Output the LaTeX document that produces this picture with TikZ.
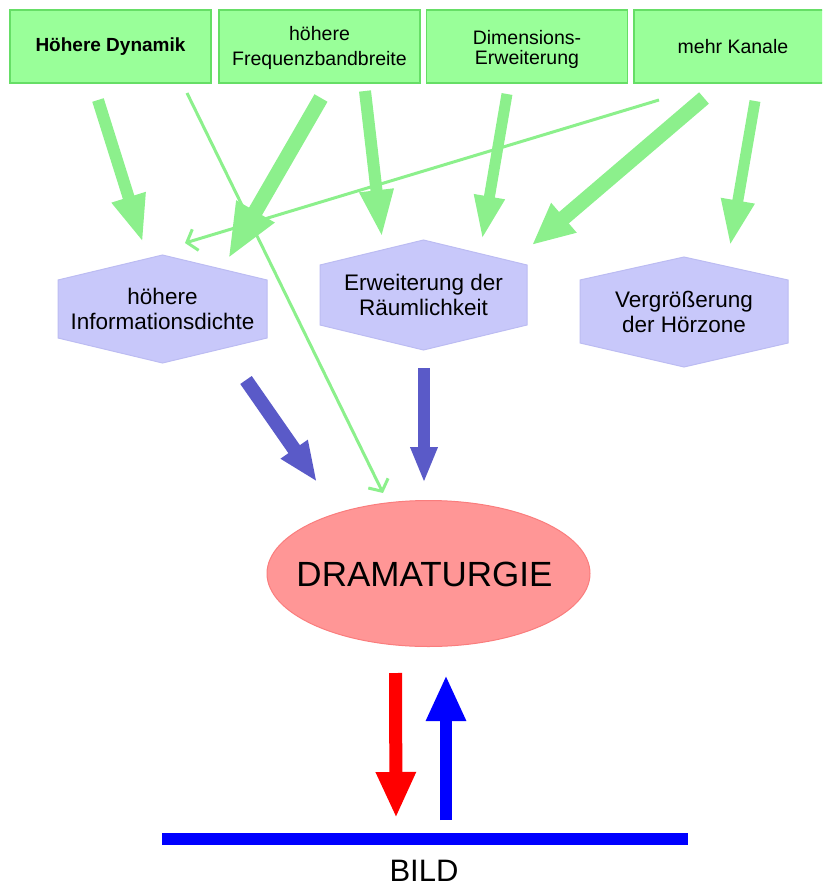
\documentclass[tikz,border=0pt]{standalone}
\usepackage{fontspec}
\setmainfont{Liberation Sans}
\usetikzlibrary{arrows.meta,calc,shapes.geometric}
\definecolor{boxfill}{RGB}{153,255,153}
\definecolor{boxline}{RGB}{102,222,102}
\definecolor{garrow}{RGB}{140,240,140}
\definecolor{hexfill}{RGB}{200,200,250}
\definecolor{hexline}{RGB}{188,188,242}
\definecolor{ellfill}{RGB}{255,150,150}
\definecolor{ellline}{RGB}{250,125,125}
\definecolor{slateb}{RGB}{90,90,200}
\begin{document}
\begin{tikzpicture}[x=1pt,y=-1pt,
  topbox/.style={draw=boxline, fill=boxfill, line width=1.5pt, minimum width=201pt,
    minimum height=73pt, inner sep=0pt, align=center},
  topfont/.style={font=\fontsize{19.5}{#1}\selectfont, align=center, inner sep=0pt},
  hextext/.style={font=\fontsize{22.5}{25}\selectfont, align=center, inner sep=0pt},
  hexshape/.style={fill=hexfill, draw=hexline, line width=1pt},
  garr/.style n args={3}{draw=garrow, line width=#1, -{Triangle[width=#2,length=#3]}},
  gthin/.style={draw=garrow, line width=3pt, -{Straight Barb[length=9pt,width=22pt]}},
  barr/.style n args={4}{draw=#1, line width=#2, -{Triangle[width=#3,length=#4]}}
]
\useasboundingbox (0,0) rectangle (822,888);
\clip (0,0) rectangle (822,888);

% top boxes
\node[topbox, font=\bfseries\fontsize{19}{23}\selectfont] (t1) at (110.5,46.5) {Höhere Dynamik};
\node[topbox] (t2) at (319.5,46.5) {};
\node[topfont=25] (t2t) at (319.5,48) {höhere\\Frequenzbandbreite};
\node[topbox] (t3) at (527,46.5) {};
\node[topfont=20] (t3t) at (527,49.5) {Dimensions-\\Erweiterung};
\node[topbox, font=\fontsize{19.5}{23}\selectfont, minimum width=198pt] (t4) at (733,46.5) {mehr Kanale};

% hexagon centres
\coordinate (c1) at (162.5,309);
\coordinate (c2) at (423.5,295);
\coordinate (c3) at (684,312);
\path[hexshape] ($(c1)+(-104.5,-29)$) -- ($(c1)+(0,-54)$) -- ($(c1)+(104.5,-29)$) -- ($(c1)+(104.5,29)$) -- ($(c1)+(0,54)$) -- ($(c1)+(-104.5,29)$) -- cycle;
\path[hexshape] ($(c2)+(-103.5,-30)$) -- ($(c2)+(0,-55)$) -- ($(c2)+(103.5,-30)$) -- ($(c2)+(103.5,30)$) -- ($(c2)+(0,55)$) -- ($(c2)+(-103.5,30)$) -- cycle;
\path[hexshape] ($(c3)+(-104,-32)$) -- ($(c3)+(0,-55)$) -- ($(c3)+(104,-32)$) -- ($(c3)+(104,31)$) -- ($(c3)+(0,55)$) -- ($(c3)+(-104,31)$) -- cycle;
\node[hextext] (h1) at (c1) {höhere\\Informationsdichte};
\node[hextext] (h2) at (c2) {Erweiterung der\\Räumlichkeit};
\node[hextext] (h3) at (c3) {Vergrößerung\\der Hörzone};

% ellipse
\node[ellipse, minimum width=323pt, minimum height=146pt, inner sep=0pt, fill=ellfill, draw=ellline, line width=1pt] (dr) at (428.5,573.5) {};
\node[font=\fontsize{35}{40}\selectfont, inner sep=0pt] (drt) at (424.5,574) {DRAMATURGIE};

% connector end points
\coordinate (a1s) at (98,100);   \coordinate (a1e) at (143,243);
\coordinate (a3s) at (321,98);   \coordinate (a3e) at (228,259);
\coordinate (a4s) at (365,91);   \coordinate (a4e) at (382,238);
\coordinate (a6s) at (507,94);   \coordinate (a6e) at (482,240);
\coordinate (a7s) at (704,98);   \coordinate (a7e) at (532,245);
\coordinate (a8s) at (755,101);  \coordinate (a8e) at (730,246);
\coordinate (l2s) at (187,93);   \coordinate (l2e) at (383,493);
\coordinate (l5s) at (659,100);  \coordinate (l5e) at (185,243);
\coordinate (bas) at (246,380);  \coordinate (bae) at (317,482);
\coordinate (bbs) at (424,368);  \coordinate (bbe) at (424,483);
\coordinate (rs) at (395.5,673); \coordinate (re) at (396,818);
\coordinate (us) at (446,820);   \coordinate (ue) at (446,675);
\coordinate (bl) at (162,839);   \coordinate (br) at (688,839);

% thin green connectors
\draw[gthin] (l2s) -- (l2e);
\draw[gthin] (l5s) -- (l5e);
% thick green connectors
\draw[garr={12pt}{32pt}{48pt}] (a1s) -- (a1e);
\draw[garr={15pt}{40pt}{55pt}] (a3s) -- (a3e);
\draw[garr={12pt}{31pt}{48pt}] (a4s) -- (a4e);
\draw[garr={11pt}{28pt}{44pt}] (a6s) -- (a6e);
\draw[garr={15pt}{36pt}{42pt}] (a7s) -- (a7e);
\draw[garr={11pt}{31pt}{46pt}] (a8s) -- (a8e);

% slate blue connectors
\draw[barr={slateb}{14pt}{30pt}{40pt}] (bas) -- (bae);
\draw[barr={slateb}{12pt}{25pt}{36pt}] (bbs) -- (bbe);

% bottom
\draw[barr={red}{13pt}{37pt}{46pt}] (rs) -- (re);
\draw[barr={blue}{12pt}{37pt}{46pt}] (us) -- (ue);
\draw[blue, line width=12pt] (bl) -- (br);
\node[font=\fontsize{31}{34}\selectfont, anchor=base, inner sep=0pt] (bild) at (424,881) {BILD};
\end{tikzpicture}
\end{document}
